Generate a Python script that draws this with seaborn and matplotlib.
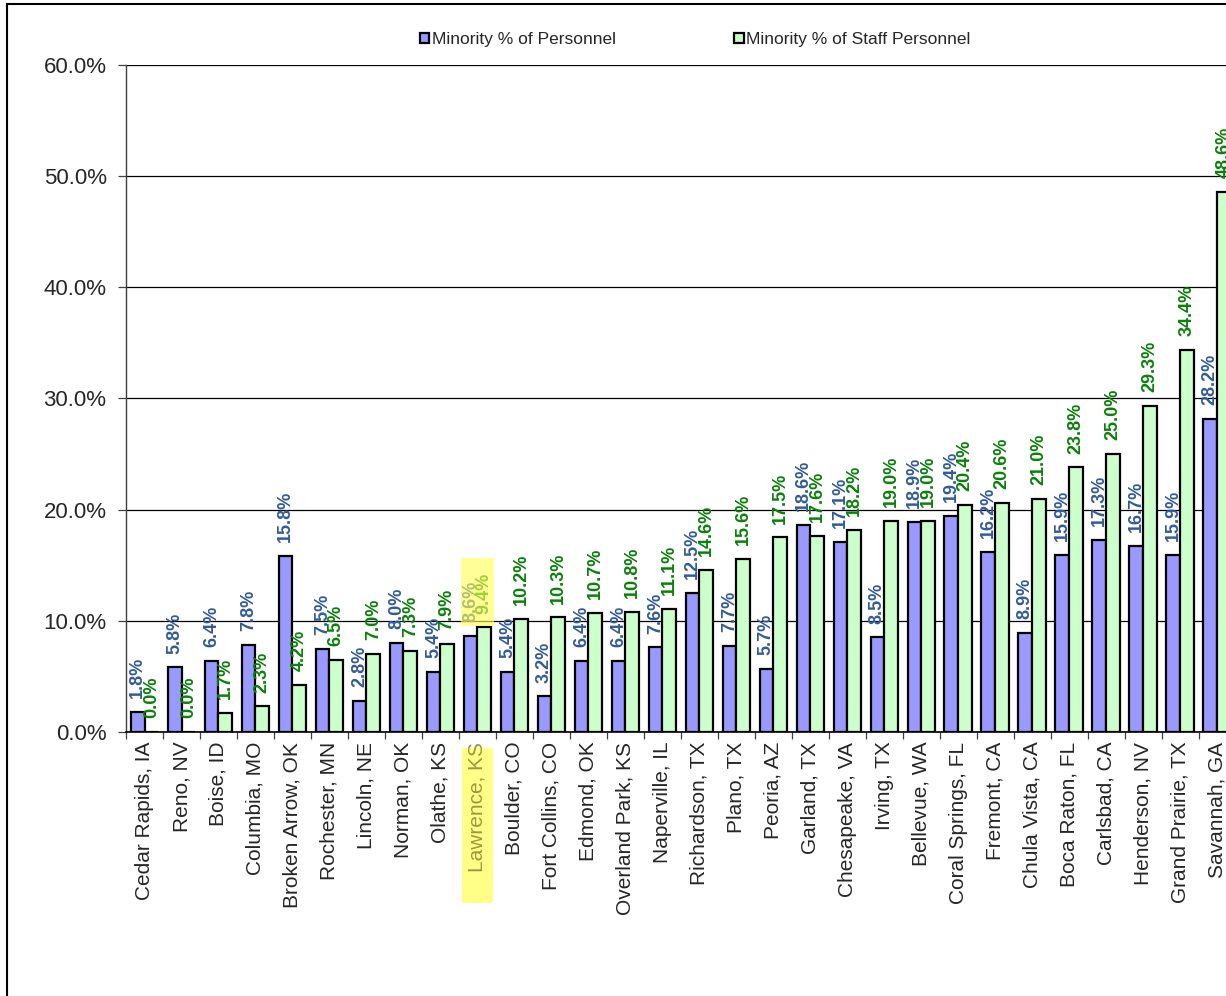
import pandas as pd
import seaborn as sns
import matplotlib.pyplot as plt
from matplotlib.patches import Rectangle
from matplotlib.ticker import PercentFormatter, FixedLocator
import matplotlib.transforms as mtransforms

# données
cities = ['Cedar Rapids, IA', 'Reno, NV', 'Boise, ID', 'Columbia, MO', 'Broken Arrow, OK',
          'Rochester, MN', 'Lincoln, NE', 'Norman, OK', 'Olathe, KS', 'Lawrence, KS',
          'Boulder, CO', 'Fort Collins, CO', 'Edmond, OK', 'Overland Park, KS', 'Naperville, IL',
          'Richardson, TX', 'Plano, TX', 'Peoria, AZ', 'Garland, TX', 'Chesapeake, VA',
          'Irving, TX', 'Bellevue, WA', 'Coral Springs, FL', 'Fremont, CA', 'Chula Vista, CA',
          'Boca Raton, FL', 'Carlsbad, CA', 'Henderson, NV', 'Grand Prairie, TX', 'Savannah, GA']
personnel = [1.8, 5.8, 6.4, 7.8, 15.8, 7.5, 2.8, 8.0, 5.4, 8.6,
             5.4, 3.2, 6.4, 6.4, 7.6, 12.5, 7.7, 5.7, 18.6, 17.1,
             8.5, 18.9, 19.4, 16.2, 8.9, 15.9, 17.3, 16.7, 15.9, 28.2]
staff = [0.0, 0.0, 1.7, 2.3, 4.2, 6.5, 7.0, 7.3, 7.9, 9.4,
         10.2, 10.3, 10.7, 10.8, 11.1, 14.6, 15.6, 17.5, 17.6, 18.2,
         19.0, 19.0, 20.4, 20.6, 21.0, 23.8, 25.0, 29.3, 34.4, 48.6]
series = ['Minority % of Personnel', 'Minority % of Staff Personnel']
highlight = 'Lawrence, KS'

df = pd.DataFrame({'City': cities * 2,
                   'Value': personnel + staff,
                   'Series': [series[0]] * len(cities) + [series[1]] * len(cities)})

sns.set_style('white')
plt.rcParams['font.family'] = ['Liberation Sans', 'DejaVu Sans']

fig = plt.figure(figsize=(12.26, 9.96), dpi=100)
ax = fig.add_axes([0.1028, 0.2651, 0.905, 0.6696])

sns.barplot(data=df, x='City', y='Value', hue='Series',
            palette=['#9999ff', '#ccffcc'], edgecolor='black', linewidth=1.6,
            width=0.74, saturation=1, ax=ax)

label_colors = ['#335b99', '#0a800a']
for cont, col in zip(ax.containers, label_colors):
    for bar in cont:
        h = bar.get_height()
        ax.annotate(f'{h:.1f}%', (bar.get_x() + bar.get_width() / 2, h),
                    xytext=(0, 10), textcoords='offset points',
                    rotation=90, ha='center', va='bottom', color=col,
                    fontsize=13, fontweight='bold', annotation_clip=False, zorder=4)

ax.set_ylim(0, 60)
ax.set_xlim(-0.5, len(cities) - 0.5)
ax.yaxis.set_major_locator(FixedLocator([0, 10, 20, 30, 40, 50, 60]))
ax.yaxis.set_major_formatter(PercentFormatter(decimals=1))
ax.grid(axis='y', color='black', linewidth=0.9)
ax.set_axisbelow(True)
ax.set_xlabel('')
ax.set_ylabel('')

ax.tick_params(axis='y', which='major', direction='out', length=6, width=0.9,
               color='#404040', labelsize=16, pad=8, left=True)
ax.set_xticks(range(len(cities)))
ax.set_xticklabels(cities, rotation=90, fontsize=15)
ax.set_xticks([i - 0.5 for i in range(len(cities) + 1)], minor=True)
ax.tick_params(axis='x', which='major', length=0, pad=7)
ax.tick_params(axis='x', which='minor', direction='out', length=5, width=0.9,
               color='#404040', bottom=True)

for s in ['top', 'right']:
    ax.spines[s].set_visible(False)
ax.spines['left'].set_color('#404040')
ax.spines['bottom'].set_color('black')
ax.spines['left'].set_linewidth(1.0)
ax.spines['bottom'].set_linewidth(1.2)

# surlignage Lawrence
idx = cities.index(highlight)
for t in ax.get_xticklabels():
    if t.get_text() == highlight:
        t.set_color('#99993d')
trans = mtransforms.blended_transform_factory(ax.transData, ax.transAxes)
ax.add_patch(Rectangle((idx - 0.42, -0.256), 0.84, 0.232, transform=trans,
                       facecolor='#ffff88', edgecolor='none', clip_on=False, zorder=0.5))
top = max(personnel[idx], staff[idx])
ax.add_patch(Rectangle((idx - 0.45, top + 0.15), 0.9, 6.1, facecolor='#ffff55',
                       edgecolor='none', alpha=0.62, clip_on=False, zorder=5))

# légende
ax.get_legend().remove()
handles, labels = ax.get_legend_handles_labels()
fig.legend(handles[:2], series, loc='center', bbox_to_anchor=(0.567, 0.96), ncol=2,
           frameon=False, fontsize=12.5, handlelength=0.55, handleheight=0.55,
           handletextpad=0.15, columnspacing=6.8)

# cadre
fig.patches.append(Rectangle((7 / 1226, -0.1), 1.2, 0.996 + 0.1, transform=fig.transFigure,
                             fill=False, edgecolor='black', linewidth=1.5))

fig.savefig('out.png', dpi=100)
